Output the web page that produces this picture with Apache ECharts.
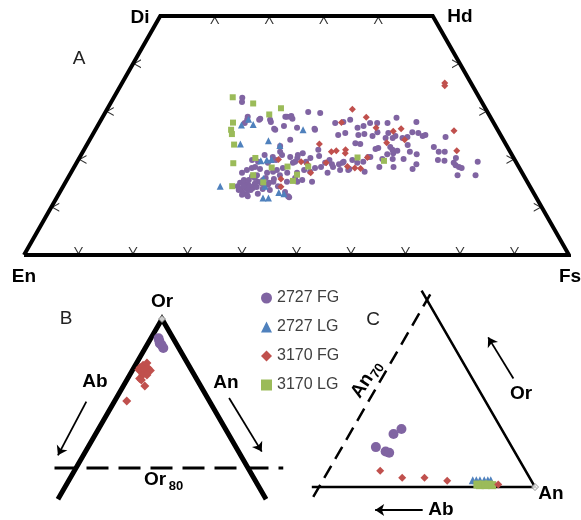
<!DOCTYPE html>
<html><head><meta charset="utf-8">
<script src="https://cdn.jsdelivr.net/npm/echarts@6/dist/echarts.min.js"></script>
<style>html,body{margin:0;padding:0;background:#fff}#c{width:581px;height:520px}</style>
</head><body><div id="c"></div>
<script>
// ---------- Panel A: pyroxene quadrilateral, points = [Fs %, Wo %] ----------
const a2727FG = [[23.6,32.9],[24.0,32.0],[26.6,28.9],[26.8,28.3],[26.7,27.6],[29.1,28.5],[32.7,26.4],[34.2,27.0],[33.8,28.9],[34.5,29.1],[35.0,28.5],[33.7,20.9],[35.6,22.8],[36.9,20.9],[38.6,20.5],[39.7,19.3],[40.0,20.3],[31.4,17.2],[32.0,17.8],[32.7,18.2],[34.4,16.7],[34.3,18.0],[36.0,17.2],[37.0,17.4],[37.5,17.8],[38.4,18.2],[38.6,16.7],[37.9,15.9],[37.4,15.1],[36.0,15.7],[35.3,15.3],[34.9,14.9],[33.8,14.7],[33.1,14.9],[32.1,15.1],[32.0,14.4],[32.9,13.8],[33.7,13.0],[34.6,12.6],[33.7,12.6],[35.0,14.0],[35.6,14.2],[36.9,13.8],[37.4,14.7],[38.1,15.3],[40.6,15.3],[42.6,12.1],[41.3,13.2],[41.9,15.7],[41.5,17.2],[39.7,17.2],
[32.5,15.7],[33.7,14.0],[34.2,14.4],[34.8,13.6],[34.3,16.1],[33.4,15.7],[32.6,13.6],[36.2,14.9],[36.3,16.1],[33.6,16.5],[34.3,13.6],[33.1,14.4],[38.3,13.6],[36.5,12.8],[39.4,14.4],[35.1,19.3],[36.3,19.9],[33.2,19.5],[31.4,27.8],[29.0,28.3],[33.5,28.9],[33.0,26.2],
[34.4,28.9],[37.2,29.9],[39.5,29.7],[36.8,26.6],[40.1,26.4],[36.8,24.1],[39.8,20.9],[40.5,21.3],[42.4,20.3],[43.8,20.7],[46.1,19.9],[47.0,19.0],[45.6,19.3],[45.3,18.4],[44.3,18.2],[43.8,17.4],[42.5,17.8],[41.7,16.1],[42.5,15.3],[43.2,15.7],[45.2,15.3],[47.1,17.2],[47.5,18.4],[48.3,19.0],[48.9,19.5],[50.7,18.0],[51.5,19.3],[53.8,17.4],[50.3,19.9],[43.3,27.6],[44.7,27.8],[45.7,28.3],[47.9,26.6],[48.8,27.0],[49.7,27.6],[45.1,25.1],[46.2,25.5],[48.8,25.1],[49.8,25.3],[49.1,23.4],[50.1,23.2],[51.5,24.9],[51.0,27.6],[52.9,27.6],[54.0,28.7],[52.0,25.7],[54.1,25.5],[54.1,24.5],[55.4,24.5],[55.7,24.9],[57.2,24.5],[58.0,24.7],[58.1,27.8],[58.4,25.7],[59.6,25.5],[60.7,24.9],[61.1,25.1],[53.4,22.2],[53.8,22.4],[55.9,22.6],[56.6,22.0],[57.1,21.3],[56.1,21.1],[57.6,21.8],[58.9,23.0],[60.0,21.6],[61.5,21.1],[53.3,20.5],[55.7,20.1],[57.6,20.1],[58.6,18.4],[56.0,18.4],[59.6,20.1],[62.5,19.0],[62.3,18.0],[63.9,22.6],[65.3,21.6],[66.4,21.6],[66.0,19.9],[67.3,19.7],[65.0,24.7],[69.1,20.3],[69.2,19.3],[69.8,18.8],[70.6,18.4],[71.2,18.2],[71.2,16.7],[74.5,16.7],[73.5,19.5],
[48.8,19.3],[49.1,17.8],[50.6,17.8],[52.9,20.5],[52.5,19.5],[42.0,19.5],[43.0,22.0],[31.0,28.3],[40.3,26.2],[35.4,20.5],[36.2,21.6],[31.9,19.9],[33.2,18.4],[40.0,19.5],[34.9,12.3],[42.3,12.3]];
const a2727LG = [[28.8,14.4],[26.3,27.2],[27.0,28.4],[28.4,27.3],[28.1,23.2],[32.9,23.9],[35.5,22.9],[38.1,26.2],[33.6,19.7],[34.6,19.9],[35.4,20.0],[35.9,16.0],[37.0,14.4],[37.9,11.9],[38.9,11.9],[40.2,13.1],[41.3,12.8]];
const a3170FG = [[59.2,36.0],[59.5,35.4],[45.0,30.5],[48.4,28.8],[44.4,27.7],[51.3,26.6],[54.8,25.9],[56.0,26.4],[57.8,24.1],[65.9,26.0],[68.5,21.8],[42.6,23.2],[45.6,21.6],[46.4,21.8],[48.0,22.0],[48.3,21.3],[54.8,23.5],[52.8,20.4],[36.7,20.0],[41.1,19.5],[42.5,19.0],[44.0,17.2],[39.2,15.9],[40.0,14.3],[50.1,18.5],[51.6,18.2],[52.7,18.1],[45.8,19.3]];
const a3170LG = [[21.8,33.0],[26.2,31.7],[30.3,29.4],[31.8,30.7],[24.5,27.7],[24.9,26.2],[25.5,25.3],[27.0,23.1],[32.3,20.3],[28.8,19.2],[36.3,18.3],[39.1,18.5],[33.7,16.7],[36.3,15.2],[31.0,14.4],[42.9,18.5],[41.7,16.8],[41.6,15.5],[51.0,20.4],[56.2,19.7]];
// quadrilateral corners En, Di, Hd, Fs as [Fs, Wo]
const quadCorners = [[0,0],[0,50],[50,50],[100,0],[0,0]];
const ticksBaseFs = [10,20,30,40,50,60,70,80,90];   // on En–Fs (Wo = 0)
const ticksTopFs = [10,20,30,40];                     // on Di–Hd (Wo = 50)
const ticksLeftWo = [10,20,30,40];                    // on En–Di (Fs = 0)
const ticksRightWo = [10,20,30,40];                   // on Hd–Fs (En = 0)

// ---------- Panel B: feldspar near Or apex, points = [An %, Or %] ----------
const b2727FG = [[0.9,97.4],[1.2,97.0],[1.7,96.5],[2.1,96.1],[1.4,96.7]];
const b3170FG = [[0.7,93.5],[0.9,93.8],[1.2,94.1],[0.7,93.2],[1.2,92.9],[1.4,93.2],[1.7,93.4],[2.1,93.1],[1.5,92.5],[1.4,92.0],[1.7,91.8],[2.0,92.5],[2.5,91.0],[1.4,89.0]];
const bOrLine = 80;

// ---------- Panel C: plagioclase near An apex, points = [An %, Or %] ----------
const c2727FG = [[76.8,9.3],[76.1,8.5],[74.7,6.4],[76.4,5.7],[77.0,5.5]];
const c2727LG = [[90.8,1.1],[91.3,1.1],[91.8,1.1],[92.4,1.1],[92.9,1.1],[93.3,1.1]];
const c3170FG = [[77.2,2.6],[80.8,1.5],[83.9,1.5],[87.3,1.0],[94.7,0.4]];
const c3170LG = [[91.8,0.4],[92.2,0.3],[92.6,0.4],[93.0,0.3],[93.4,0.4],[93.9,0.3]];
const cAnLine = 70;

const names = ['2727 FG','2727 LG','3170 FG','3170 LG'];
const colors = ['#8064A2','#4F81BD','#C0504D','#9BBB59'];
const icons = ['circle','triangle','diamond','rect'];

// ternary -> cartesian helpers
const q = p => [p[0] + p[1] / 2, p[1]];           // [Fs,Wo] -> [x,Wo]
const t = p => [p[0] + p[1] / 2, p[1]];           // [An,Or] -> [x,Or]

const FONT = "'Liberation Sans', Arial, sans-serif";
const chev = {
  up:    'path://M0,0L5,9L10,0L8.6,0L5,6.6L1.4,0Z',
  down:  'path://M0,9L5,0L10,9L8.6,9L5,2.4L1.4,9Z',
  left:  'path://M9,0L0,5L9,10L9,8.6L2.4,5L9,1.4Z',
  right: 'path://M0,0L9,5L0,10L0,8.6L6.6,5L0,1.4Z'
};

const series = [];
const base = {animation:false, silent:true, clip:false};
function frame(gi, pts, width, dash) {
  series.push(Object.assign({}, base, {type:'line', xAxisIndex:gi, yAxisIndex:gi, data:pts,
    showSymbol:false, symbol:'none', z:3,
    lineStyle:{color:'#000', width:width, type: dash || 'solid', join:'miter', miterLimit:10, cap:'butt'}}));
}
function ticks(pts, sym, size, off) {
  series.push(Object.assign({}, base, {type:'scatter', xAxisIndex:0, yAxisIndex:0, data:pts,
    symbol:sym, symbolSize:size, symbolOffset:off, itemStyle:{color:'#000'}, z:4}));
}
function scat(gi, k, pts, size) {
  series.push(Object.assign({}, base, {type:'scatter', name:names[k], xAxisIndex:gi, yAxisIndex:gi,
    data:pts, symbol:icons[k], symbolSize:size, itemStyle:{color:colors[k], opacity:1}, z:5}));
}
function arrow(gi, from, to) {
  series.push(Object.assign({}, base, {type:'lines', coordinateSystem:'cartesian2d', xAxisIndex:gi, yAxisIndex:gi,
    symbol:['none','arrow'], symbolSize:9,
    lineStyle:{color:'#000', width:1.8, opacity:1, curveness:0},
    data:[{coords:[from,to]}], z:4}));
}

// Panel A
frame(0, quadCorners.map(q), 4);
ticks(ticksBaseFs.map(f => q([f,0])), chev.up, [9,8], [0,-4]);
ticks(ticksTopFs.map(f => q([f,50])), chev.down, [9,8], [0,4]);
ticks(ticksLeftWo.map(w => q([0,w])), chev.left, [8,9], [4,0]);
ticks(ticksRightWo.map(w => q([100 - w,w])), chev.right, [8,9], [-4,0]);
scat(0, 0, a2727FG.map(q), 6);
scat(0, 1, a2727LG.map(q), 7);
scat(0, 2, a3170FG.map(q), 7);
scat(0, 3, a3170LG.map(q), 6);

// Panel B
const bMinOr = 75.8;
frame(1, [[0,bMinOr],[0,100],[100 - bMinOr,bMinOr]].map(t), 5);
frame(1, [[37.5,bOrLine],[64.1,bOrLine]], 3, [22,10]);
arrow(1, [41.2,88.9], [37.9,81.7]);
arrow(1, [57.8,89.4], [61.6,82.2]);
scat(1, 0, b2727FG.map(t), 10);
scat(1, 2, b3170FG.map(t), 9);
series.push(Object.assign({}, base, {type:'scatter', xAxisIndex:1, yAxisIndex:1, data:[t([0,100])],
  symbol:'diamond', symbolSize:7, itemStyle:{color:'#fff', borderColor:'#777', borderWidth:1}, z:6}));

// Panel C
const cMaxOr = 31.5;
frame(2, [[69,0],[100,0],[100 - cMaxOr,cMaxOr]].map(t), 2.5);
frame(2, [[cAnLine,-1.6],[cAnLine,cMaxOr]].map(t), 2.5, [14,8]);
arrow(2, [84.4,-3.7], [77.8,-3.7]);
arrow(2, [97.0,17.4], [93.5,24.0]);
scat(2, 0, c2727FG.map(t), 10);
scat(2, 1, c2727LG.map(t), 8);
scat(2, 3, c3170LG.map(t), 8);
scat(2, 2, c3170FG.map(t), 8);
series.push(Object.assign({}, base, {type:'scatter', xAxisIndex:2, yAxisIndex:2, data:[t([100,0])],
  symbol:'diamond', symbolSize:7, itemStyle:{color:'#fff', borderColor:'#777', borderWidth:1}, z:6}));

function txt(text, x, y, size, bold, color) {
  return {type:'text', x:x, y:y, z:10, silent:true, style:{text:text, font:(bold?'bold ':'') + size + 'px ' + FONT,
    fill: color || '#000', textAlign:'center', textVerticalAlign:'middle', align:'center', verticalAlign:'middle'}};
}
const graphic = [
  txt('Di', 140, 18, 19, true), txt('Hd', 460, 17, 19, true),
  txt('En', 24, 277, 19, true), txt('Fs', 570, 277, 19, true),
  txt('A', 79, 59, 19, false, '#222'), txt('B', 66, 319, 19, false, '#222'), txt('C', 373, 320, 19, false, '#222'),
  txt('Or', 162, 302, 19, true),
  txt('Ab', 95, 382, 19, true), txt('An', 226, 383, 19, true),
  txt('Or', 155, 480, 19, true), txt('80', 176, 486, 13, true),
  txt('Or', 521, 394, 19, true), txt('An', 551, 494, 19, true), txt('Ab', 441, 510, 19, true),
  {type:'group', x:366, y:380, rotation:57*Math.PI/180, children:[
    txt('An', -7, 0, 19, true), txt('70', 14, 5, 13, true)]}
];

const chart = echarts.init(document.getElementById('c'), null, {renderer:'canvas'});
chart.setOption({
  animation:false,
  backgroundColor:'#fff',
  grid:[
    {left:24, top:16, width:545, height:239},
    {left:41.6, top:319, width:249.4, height:180.3},
    {left:290.2, top:290.6, width:259.2, height:227.6}
  ],
  xAxis:[
    {type:'value', gridIndex:0, min:0, max:100, show:false},
    {type:'value', gridIndex:1, min:36, max:65, show:false},
    {type:'value', gridIndex:2, min:66, max:102, show:false}
  ],
  yAxis:[
    {type:'value', gridIndex:0, min:0, max:50, show:false},
    {type:'value', gridIndex:1, min:bMinOr, max:100, show:false},
    {type:'value', gridIndex:2, min:-5, max:cMaxOr, show:false}
  ],
  legend:{
    orient:'vertical', left:256, top:285, itemGap:13, itemWidth:11, itemHeight:11,
    selectedMode:false,
    textStyle:{fontSize:16, color:'#404040', fontFamily:FONT},
    data:names.map((n,i) => ({name:n, icon:icons[i], itemStyle:{color:colors[i]}}))
  },
  graphic:graphic,
  series:series
});
</script></body></html>
